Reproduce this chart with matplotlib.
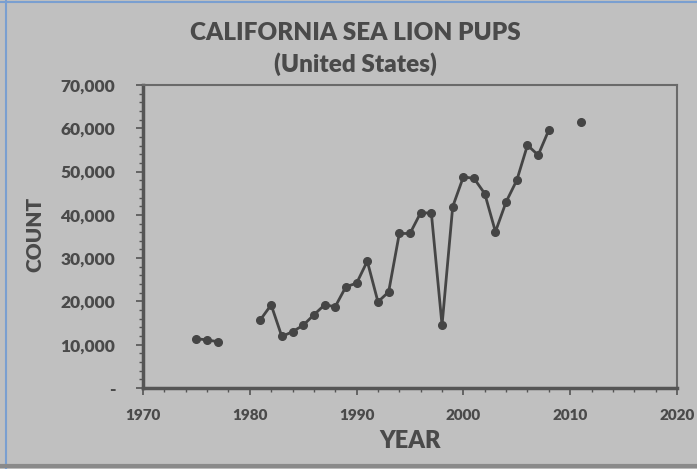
import numpy as np
import matplotlib
matplotlib.use("Agg")
import matplotlib.pyplot as plt
from matplotlib.ticker import FuncFormatter, MultipleLocator
from matplotlib.lines import Line2D

years = [1975, 1976, 1977, 1978, 1979, 1980, 1981, 1982, 1983, 1984, 1985,
         1986, 1987, 1988, 1989, 1990, 1991, 1992, 1993, 1994, 1995, 1996,
         1997, 1998, 1999, 2000, 2001, 2002, 2003, 2004, 2005, 2006, 2007,
         2008, 2009, 2010, 2011]
pups = [11400, 11100, 10700, np.nan, np.nan, np.nan, 15800, 19200, 11900,
        13000, 14500, 16900, 19200, 18800, 23400, 24200, 29300, 19900,
        22200, 35700, 35700, 40500, 40400, 14500, 41900, 48800, 48400,
        44900, 36100, 43000, 48000, 56100, 53800, 59600, np.nan, np.nan,
        61500]

title = "CALIFORNIA SEA LION PUPS\n(United States)"
xlabel = "YEAR"
ylabel = "COUNT"

plt.rcParams['font.family'] = ['Lato', 'DejaVu Sans']
bg = "#c0c0c0"
txt = "#4a4a4a"
line_c = "#454545"

fig = plt.figure(figsize=(6.97, 4.69), dpi=100, facecolor=bg)
ax = fig.add_axes([143/697, 1-388/469, (677-143)/697, (388-85)/469])
ax.set_facecolor(bg)

ax.plot(years, pups, color=line_c, lw=2, marker='o', ms=5.5,
        markerfacecolor=line_c, markeredgecolor=line_c)

ax.set_xlim(1970, 2020)
ax.set_ylim(0, 70000)
ax.xaxis.set_major_locator(MultipleLocator(10))
ax.xaxis.set_minor_locator(MultipleLocator(2))
ax.yaxis.set_major_locator(MultipleLocator(10000))
ax.yaxis.set_minor_locator(MultipleLocator(2000))

def yfmt(v, p):
    if v == 0:
        return "-"
    return f"{int(v):,}"
ax.yaxis.set_major_formatter(FuncFormatter(yfmt))

for s in ax.spines.values():
    s.set_color("#6a6a6a")
    s.set_linewidth(1.5)
ax.spines['left'].set_color("#555555")
ax.spines['bottom'].set_color("#555555")
ax.spines['left'].set_linewidth(2.5)
ax.spines['bottom'].set_linewidth(2.5)

ax.tick_params(axis='y', which='major', length=5, width=1.2, color="#555555",
               pad=15, labelsize=12.5, labelcolor=txt)
ax.tick_params(axis='y', which='minor', length=3, width=1, color="#555555")
ax.tick_params(axis='x', which='major', length=5, width=1.2, color="#555555",
               pad=10, labelsize=11, labelcolor=txt)
ax.tick_params(axis='x', which='minor', length=3, width=1, color="#555555")
for lab in ax.get_xticklabels() + ax.get_yticklabels():
    lab.set_fontweight('heavy')

fig.text(355/697, 1-49/469, title, ha='center', va='center',
         fontsize=17.5, fontweight='heavy', color=txt, linespacing=1.45)
fig.text(410/697, 1-441/469, xlabel, ha='center', va='center',
         fontsize=17, fontweight='heavy', color=txt)
fig.text(35/697, 1-234/469, ylabel, ha='center', va='center', rotation=90,
         fontsize=15, fontweight='heavy', color=txt)

# screenshot frame
fig.add_artist(Line2D([6/697, 6/697], [0, 1], transform=fig.transFigure,
                      color="#7a9fd0", lw=1.5))
fig.add_artist(Line2D([0, 1], [1-2/469, 1-2/469], transform=fig.transFigure,
                      color="#7a9fd0", lw=1.5))
fig.add_artist(Line2D([0, 1], [1-466/469, 1-466/469], transform=fig.transFigure,
                      color="#8a8a8a", lw=3))

fig.savefig("out.png", dpi=100, facecolor=bg)
